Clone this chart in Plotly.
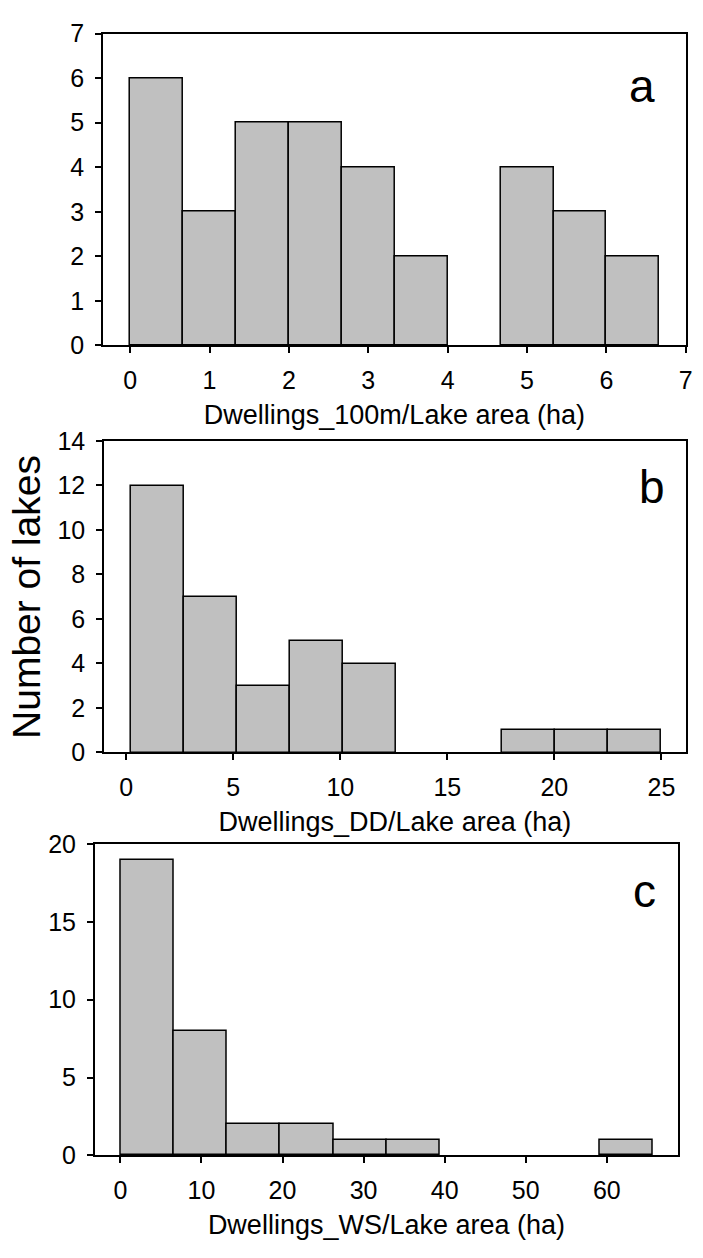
import plotly.graph_objects as go

W, H = 703, 1258

# ---- data ----
a_edges = [0, 0.667, 1.333, 2.0, 2.667, 3.333, 4.0, 4.667, 5.333, 6.0, 6.667]
a_counts = [6, 3, 5, 5, 4, 2, 0, 4, 3, 2]

b_edges = [0.2, 2.68, 5.16, 7.64, 10.12, 12.6, 15.08, 17.56, 20.04, 22.52, 25.0]
b_counts = [12, 7, 3, 5, 4, 0, 0, 1, 1, 1]

c_edges = [0, 6.57, 13.14, 19.71, 26.28, 32.85, 39.42, 45.99, 52.56, 59.13, 65.7]
c_counts = [19, 8, 2, 2, 1, 1, 0, 0, 0, 1]

a_title = "Dwellings_100m/Lake area (ha)"
b_title = "Dwellings_DD/Lake area (ha)"
c_title = "Dwellings_WS/Lake area (ha)"
y_title = "Number of lakes"
panel_labels = ["a", "b", "c"]

FONT = "Liberation Sans, Arial, sans-serif"

fig = go.Figure()

panels = [
    dict(edges=a_edges, counts=a_counts, xa="x", ya="y"),
    dict(edges=b_edges, counts=b_counts, xa="x2", ya="y2"),
    dict(edges=c_edges, counts=c_counts, xa="x3", ya="y3"),
]
for p in panels:
    e = p["edges"]
    xs, ws, ys = [], [], []
    for i, c in enumerate(p["counts"]):
        if c > 0:
            xs.append((e[i] + e[i + 1]) / 2)
            ws.append(e[i + 1] - e[i])
            ys.append(c)
    fig.add_trace(go.Bar(x=xs, y=ys, width=ws, xaxis=p["xa"], yaxis=p["ya"],
                         marker=dict(color="#c0c0c0", line=dict(color="black", width=1.5)),
                         showlegend=False, hoverinfo="skip"))

def px_x(v):
    return v / W

def px_y(v):
    return 1 - v / H

axis_common = dict(showline=True, mirror=True, linecolor="black", linewidth=1.5,
                   ticks="outside", ticklen=6, tickwidth=1.5, tickcolor="black",
                   showgrid=False, zeroline=False,
                   tickfont=dict(family=FONT, size=25, color="black"))

# panel geometry (pixels)
geo = {
    "a": dict(l=104, r=692.7, t=20, b=339, xr=[-0.343, 7.0], yr=[0, 7], xt=list(range(0, 8)), yt=list(range(0, 8))),
    "b": dict(l=105, r=692.7, t=436.7, b=755.3, xr=[-1.04, 26.14], yr=[0, 14], xt=[0, 5, 10, 15, 20, 25], yt=list(range(0, 15, 2))),
    "c": dict(l=95.7, r=685, t=849, b=1167.3, xr=[-3.16, 68.8], yr=[0, 20], xt=[0, 10, 20, 30, 40, 50, 60], yt=[0, 5, 10, 15, 20]),
}
titles = {"a": a_title, "b": b_title, "c": c_title}
names = [("a", "xaxis", "yaxis", "y", "x"), ("b", "xaxis2", "yaxis2", "y2", "x2"), ("c", "xaxis3", "yaxis3", "y3", "x3")]
layout = {}
for key, xn, yn, yanc, xanc in names:
    g = geo[key]
    layout[xn] = dict(axis_common, domain=[px_x(g["l"]), px_x(g["r"])], range=g["xr"],
                      tickvals=g["xt"], anchor=yanc, ticklabelstandoff=6,
                      title=dict(text=titles[key], font=dict(family=FONT, size=27, color="black"), standoff=12))
    layout[yn] = dict(axis_common, domain=[px_y(g["b"]), px_y(g["t"])], range=g["yr"],
                      tickvals=g["yt"], anchor=xanc, ticklabelstandoff=6)

fig.update_layout(**layout)

annotations = []
for lab, (cx, cy) in zip(panel_labels, [(648.5, 74), (659, 484), (651, 897)]):
    annotations.append(dict(text=lab, x=px_x(cx), y=px_y(cy), xref="paper", yref="paper",
                            xanchor="center", yanchor="middle", showarrow=False,
                            font=dict(family=FONT, size=46, color="black")))
annotations.append(dict(text=y_title, x=px_x(27.5), y=px_y(596), xref="paper", yref="paper",
                        xanchor="center", yanchor="middle", showarrow=False, textangle=-90,
                        font=dict(family=FONT, size=39, color="black")))

fig.update_layout(width=W, height=H, margin=dict(l=0, r=0, t=0, b=0),
                  paper_bgcolor="white", plot_bgcolor="white", bargap=0,
                  annotations=annotations)

fig.write_html("out.html")
